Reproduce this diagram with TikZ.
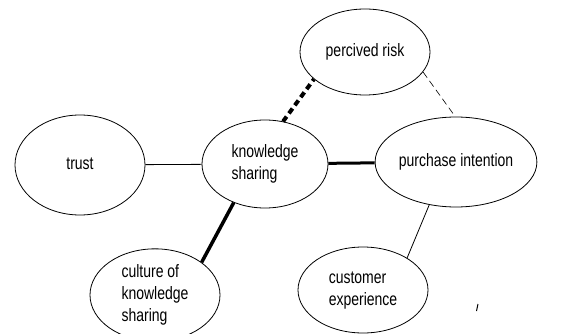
\documentclass[tikz,border=0pt]{standalone}
\usepackage{fontspec}
\usepackage{graphicx}
\setmainfont{Liberation Sans}
\usetikzlibrary{shapes.geometric}
\newcommand{\vtxt}[1]{\scalebox{1}[1.28]{\begin{tabular}{@{}l@{}}#1\end{tabular}}}
\begin{document}
\begin{tikzpicture}[x=1pt,y=-1pt,
  bub/.style={draw, ellipse, line width=0.8pt, inner sep=0pt, font=\fontsize{14}{17}\selectfont},
  conn/.style={line width=0.8pt},
  heavy/.style={line width=3pt},
  heavydash/.style={line width=4pt, dash pattern=on 6pt off 4pt},
  lightdash/.style={line width=0.6pt, dash pattern=on 7pt off 4pt}]
\useasboundingbox (0,0) rectangle (581,334);
\clip (0,0) rectangle (581,334);
\node[bub, minimum width=130pt, minimum height=86pt] (risk) at (365,52) {\vtxt{percived risk}};
\node[bub, minimum width=130pt, minimum height=100pt] (trust) at (80,165) {\vtxt{trust}};
\node[bub, minimum width=126pt, minimum height=88pt] (ks) at (265,164) {\vtxt{knowledge\\sharing}};
\node[bub, minimum width=128pt, minimum height=90pt] (pi) at (456,162) {\vtxt{purchase intention}};
\node[bub, minimum width=130pt, minimum height=90pt] (cul) at (155,295) {\vtxt{culture of\\knowledge\\sharing}};
\node[bub, minimum width=130pt, minimum height=86pt] (ce) at (363,290) {\vtxt{customer\\experience}};
\draw[conn] (trust) -- (ks);
\draw[heavy] (ks) -- (pi);
\draw[heavydash] (ks.67) -- (risk.208);
\draw[lightdash] (risk.-19) -- (pi.91);
\draw[heavy, line width=3.5pt] (ks.231) -- (cul.35);
\draw[conn] (pi.238) -- (ce.36);
\coordinate (m1) at (478,304);
\coordinate (m2) at (476.5,311);
\draw[line width=1pt] (m1) -- (m2);
\end{tikzpicture}
\end{document}
